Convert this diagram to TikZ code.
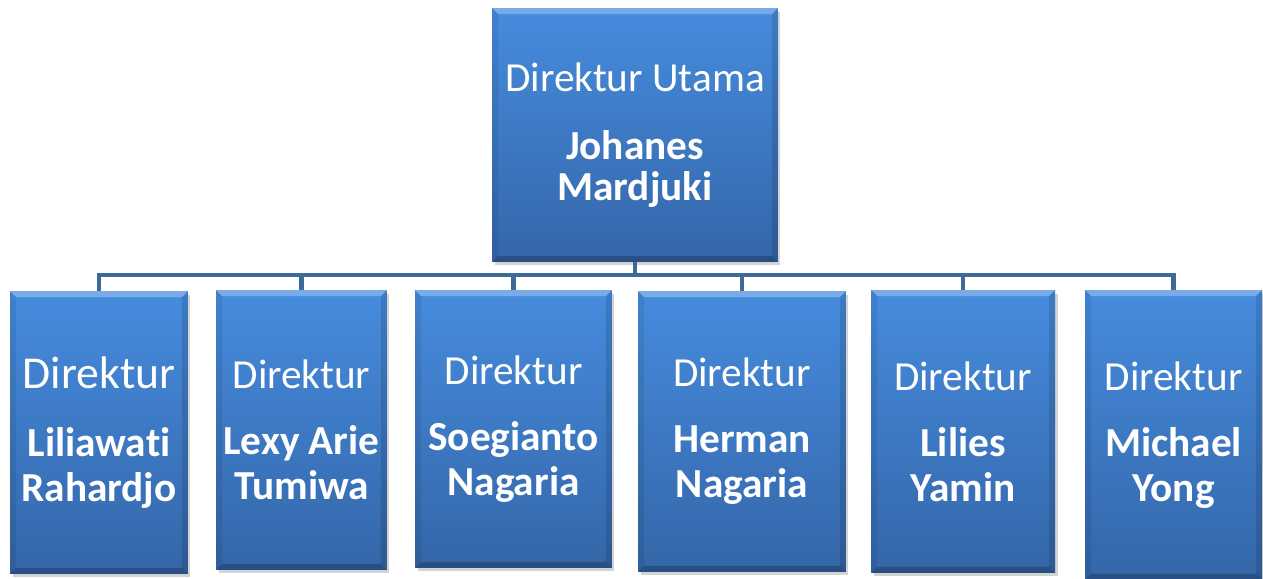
\documentclass[tikz,border=0pt]{standalone}
\usepackage{fontspec}
\setmainfont{Carlito}[Ligatures={NoCommon}]
\usetikzlibrary{shadows}
\definecolor{boxtop}{RGB}{70,140,222}
\definecolor{boxbot}{RGB}{52,102,168}
\definecolor{linkc}{RGB}{62,106,152}
\tikzset{
  orgbox/.style={
    rectangle, inner sep=0pt, align=center, text=white,
    top color=boxtop, bottom color=boxbot,
    font=\fontsize{23.5}{25.5}\selectfont,
    drop shadow={opacity=0.35, shadow xshift=0.05cm, shadow yshift=-0.07cm},
    path picture={
      \def\bv{0.12cm}
      \fill[white,opacity=0.28]
        (path picture bounding box.north west) -- (path picture bounding box.north east)
        -- ([xshift=-\bv,yshift=-\bv]path picture bounding box.north east)
        -- ([xshift=\bv,yshift=-\bv]path picture bounding box.north west) -- cycle;
      \fill[black,opacity=0.22]
        (path picture bounding box.south west) -- (path picture bounding box.south east)
        -- ([xshift=-\bv,yshift=\bv]path picture bounding box.south east)
        -- ([xshift=\bv,yshift=\bv]path picture bounding box.south west) -- cycle;
      \fill[black,opacity=0.08]
        (path picture bounding box.north west) -- (path picture bounding box.south west)
        -- ([xshift=\bv,yshift=\bv]path picture bounding box.south west)
        -- ([xshift=\bv,yshift=-\bv]path picture bounding box.north west) -- cycle;
      \fill[black,opacity=0.12]
        (path picture bounding box.north east) -- (path picture bounding box.south east)
        -- ([xshift=-\bv,yshift=\bv]path picture bounding box.south east)
        -- ([xshift=-\bv,yshift=-\bv]path picture bounding box.north east) -- cycle;
    }
  },
  link/.style={draw=linkc, line width=2.6pt}
}
\begin{document}
\begin{tikzpicture}[x=0.02cm, y=-0.02cm]
  \useasboundingbox (0,0) rectangle (1263,578);

  % head of the company
  \node[orgbox, minimum width=5.72cm, minimum height=5.08cm] (top) at (635,135)
    {Direktur Utama\\[13pt]\textbf{Johanes}\\[-2pt]\textbf{Mardjuki}};

  % directors
  \node[orgbox, minimum width=3.56cm, minimum height=5.66cm] (d1) at (99,432.5)
    {{\fontsize{26}{26}\selectfont Direktur}\\[13pt]\textbf{Liliawati}\\\textbf{Rahardjo}};
  \node[orgbox, minimum width=3.42cm, minimum height=5.60cm] (d2) at (301.5,430)
    {Direktur\\[12pt]\textbf{Lexy Arie}\\\textbf{Tumiwa}};
  \node[orgbox, minimum width=3.94cm, minimum height=5.56cm] (d3) at (513.5,429)
    {Direktur\\[12pt]\textbf{Soegianto}\\\textbf{Nagaria}};
  \node[orgbox, minimum width=4.16cm, minimum height=5.62cm] (d4) at (742,431.5)
    {Direktur\\[12pt]\textbf{Herman}\\\textbf{Nagaria}};
  \node[orgbox, minimum width=3.68cm, minimum height=5.66cm] (d5) at (963,431.5)
    {Direktur\\[12pt]\textbf{Lilies}\\\textbf{Yamin}};
  \node[orgbox, minimum width=3.54cm, minimum height=5.80cm] (d6) at (1173.5,435)
    {Direktur\\[12pt]\textbf{Michael}\\\textbf{Yong}};

  % connectors
  \coordinate (bus) at (0,275);
  \begin{scope}[on background layer/.try]
  \draw[link] (top.south) -- (top.south |- bus);
  \foreach \d in {d1,d2,d3,d4,d5,d6}
    \draw[link] (top.south |- bus) -| (\d.north);
  \end{scope}
\end{tikzpicture}
\end{document}
